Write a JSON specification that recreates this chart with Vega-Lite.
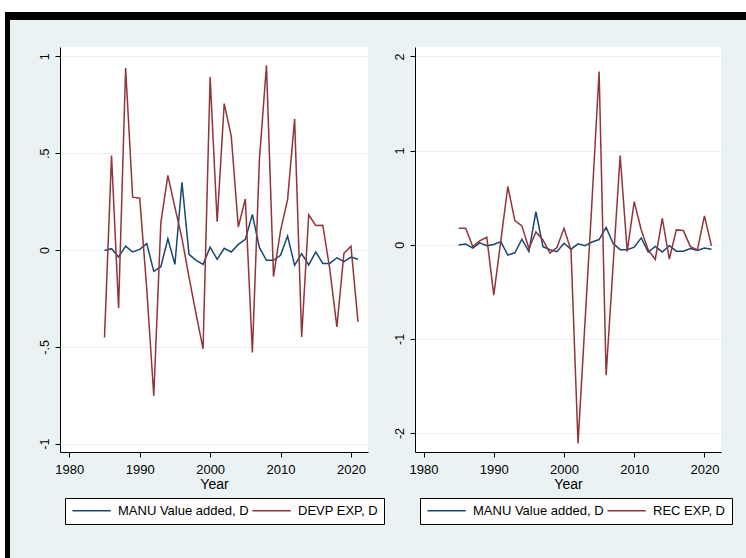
{
  "$schema": "https://vega.github.io/schema/vega-lite/v6.json",
  "background": "#EAF2F3",
  "padding": 0,
  "datasets": {
    "d": [
      {"Year": 1985, "MANU Value added, D": -0.002, "DEVP EXP, D": -0.452, "REC EXP, D": 0.174},
      {"Year": 1986, "MANU Value added, D": 0.007, "DEVP EXP, D": 0.488, "REC EXP, D": 0.174},
      {"Year": 1987, "MANU Value added, D": -0.036, "DEVP EXP, D": -0.30, "REC EXP, D": -0.02},
      {"Year": 1988, "MANU Value added, D": 0.02, "DEVP EXP, D": 0.94, "REC EXP, D": 0.04},
      {"Year": 1989, "MANU Value added, D": -0.01, "DEVP EXP, D": 0.273, "REC EXP, D": 0.079},
      {"Year": 1990, "MANU Value added, D": 0.003, "DEVP EXP, D": 0.268, "REC EXP, D": -0.535},
      {"Year": 1991, "MANU Value added, D": 0.033, "DEVP EXP, D": -0.2, "REC EXP, D": 0.04},
      {"Year": 1992, "MANU Value added, D": -0.11, "DEVP EXP, D": -0.753, "REC EXP, D": 0.618},
      {"Year": 1993, "MANU Value added, D": -0.086, "DEVP EXP, D": 0.14, "REC EXP, D": 0.256},
      {"Year": 1994, "MANU Value added, D": 0.058, "DEVP EXP, D": 0.385, "REC EXP, D": 0.20},
      {"Year": 1995, "MANU Value added, D": -0.074, "DEVP EXP, D": 0.22, "REC EXP, D": -0.04},
      {"Year": 1996, "MANU Value added, D": 0.35, "DEVP EXP, D": 0.06, "REC EXP, D": 0.136},
      {"Year": 1997, "MANU Value added, D": -0.022, "DEVP EXP, D": -0.14, "REC EXP, D": 0.05},
      {"Year": 1998, "MANU Value added, D": -0.053, "DEVP EXP, D": -0.33, "REC EXP, D": -0.09},
      {"Year": 1999, "MANU Value added, D": -0.074, "DEVP EXP, D": -0.51, "REC EXP, D": -0.03},
      {"Year": 2000, "MANU Value added, D": 0.015, "DEVP EXP, D": 0.893, "REC EXP, D": 0.174},
      {"Year": 2001, "MANU Value added, D": -0.048, "DEVP EXP, D": 0.146, "REC EXP, D": -0.06},
      {"Year": 2002, "MANU Value added, D": 0.009, "DEVP EXP, D": 0.756, "REC EXP, D": -2.11},
      {"Year": 2003, "MANU Value added, D": -0.01, "DEVP EXP, D": 0.588, "REC EXP, D": -0.81},
      {"Year": 2004, "MANU Value added, D": 0.029, "DEVP EXP, D": 0.119, "REC EXP, D": 0.48},
      {"Year": 2005, "MANU Value added, D": 0.055, "DEVP EXP, D": 0.264, "REC EXP, D": 1.84},
      {"Year": 2006, "MANU Value added, D": 0.184, "DEVP EXP, D": -0.529, "REC EXP, D": -1.386},
      {"Year": 2007, "MANU Value added, D": 0.012, "DEVP EXP, D": 0.467, "REC EXP, D": -0.21},
      {"Year": 2008, "MANU Value added, D": -0.053, "DEVP EXP, D": 0.954, "REC EXP, D": 0.947},
      {"Year": 2009, "MANU Value added, D": -0.053, "DEVP EXP, D": -0.137, "REC EXP, D": -0.074},
      {"Year": 2010, "MANU Value added, D": -0.027, "DEVP EXP, D": 0.1, "REC EXP, D": 0.458},
      {"Year": 2011, "MANU Value added, D": 0.072, "DEVP EXP, D": 0.26, "REC EXP, D": 0.157},
      {"Year": 2012, "MANU Value added, D": -0.079, "DEVP EXP, D": 0.677, "REC EXP, D": -0.056},
      {"Year": 2013, "MANU Value added, D": -0.019, "DEVP EXP, D": -0.449, "REC EXP, D": -0.155},
      {"Year": 2014, "MANU Value added, D": -0.077, "DEVP EXP, D": 0.182, "REC EXP, D": 0.28},
      {"Year": 2015, "MANU Value added, D": -0.01, "DEVP EXP, D": 0.127, "REC EXP, D": -0.152},
      {"Year": 2016, "MANU Value added, D": -0.069, "DEVP EXP, D": 0.128, "REC EXP, D": 0.157},
      {"Year": 2017, "MANU Value added, D": -0.069, "DEVP EXP, D": -0.1, "REC EXP, D": 0.15},
      {"Year": 2018, "MANU Value added, D": -0.04, "DEVP EXP, D": -0.397, "REC EXP, D": -0.02},
      {"Year": 2019, "MANU Value added, D": -0.06, "DEVP EXP, D": -0.017, "REC EXP, D": -0.056},
      {"Year": 2020, "MANU Value added, D": -0.036, "DEVP EXP, D": 0.02, "REC EXP, D": 0.306},
      {"Year": 2021, "MANU Value added, D": -0.048, "DEVP EXP, D": -0.371, "REC EXP, D": -0.013}
    ]
  },
  "spacing": 0,
  "hconcat": [
    {
      "width": 5, "height": 558,
      "data": {"values": [{}]},
      "mark": {"type": "point", "opacity": 0, "size": 0, "strokeWidth": 0},
      "encoding": {},
      "view": {"fill": "white", "stroke": null}
    },
    {
      "spacing": 0,
      "vconcat": [
        {
          "width": 741, "height": 12,
          "data": {"values": [{}]},
          "mark": {"type": "point", "opacity": 0, "size": 0, "strokeWidth": 0},
          "encoding": {},
          "view": {"fill": "white", "stroke": null}
        },
        {
          "width": 741, "height": 8,
          "data": {"values": [{}]},
          "mark": {"type": "point", "opacity": 0, "size": 0, "strokeWidth": 0},
          "encoding": {},
          "view": {"fill": "black", "stroke": null}
        },
        {
          "spacing": 0,
          "hconcat": [
            {
              "width": 5, "height": 27,
              "data": {"values": [{}]},
              "mark": {"type": "point", "opacity": 0, "size": 0, "strokeWidth": 0},
              "encoding": {},
              "view": {"fill": "black", "stroke": null}
            },
            {
              "width": 736, "height": 27,
              "data": {"values": [{}]},
              "mark": {"type": "point", "opacity": 0, "size": 0, "strokeWidth": 0},
              "encoding": {}
            }
          ]
        },
        {
          "spacing": 0,
          "hconcat": [
            {
              "width": 5, "height": 511,
              "data": {"values": [{}]},
              "mark": {"type": "point", "opacity": 0, "size": 0, "strokeWidth": 0},
              "encoding": {},
              "view": {"fill": "black", "stroke": null}
            },
            {
              "spacing": 0,
              "resolve": {"scale": {"color": "independent"}, "legend": {"color": "independent"}},
              "hconcat": [
                {
                  "width": 308, "height": 405,
                  "view": {"fill": "white", "stroke": null},
                  "data": {"name": "d"},
                  "transform": [{"fold": ["MANU Value added, D", "DEVP EXP, D"], "as": ["series", "value"]}],
                  "mark": {"type": "line", "strokeWidth": 1.5},
                  "encoding": {
                    "x": {"field": "Year", "type": "quantitative",
                      "scale": {"domain": [1978.68, 2022.42], "nice": false, "zero": false},
                      "axis": {"values": [1980, 1990, 2000, 2010, 2020], "format": "d", "title": "Year", "grid": false}},
                    "y": {"field": "value", "type": "quantitative",
                      "scale": {"domain": [-1.043, 1.0485], "nice": false, "zero": false},
                      "axis": {"values": [-1, -0.5, 0, 0.5, 1], "title": null, "grid": true, "minExtent": 50,
                        "labelExpr": "(datum.value < 0 ? '-' : '') + replace('' + abs(datum.value), '0.', '.')"}},
                    "color": {"field": "series", "type": "nominal",
                      "scale": {"domain": ["MANU Value added, D", "DEVP EXP, D"], "range": ["#1a476f", "#90353b"]},
                      "legend": {"title": null, "orient": "none", "legendX": 5, "legendY": 451, "direction": "horizontal", "columns": 2,
                        "symbolType": "M-1,0H6.66", "symbolSize": 100, "symbolStrokeWidth": 1.5,
                        "labelOffset": 34, "columnPadding": 0, "labelFontSize": 13, "labelLimit": 300,
                        "fillColor": "white", "strokeColor": "black", "padding": 6}}
                  }
                },
                {
                  "width": 306, "height": 405,
                  "view": {"fill": "white", "stroke": null},
                  "data": {"name": "d"},
                  "transform": [{"fold": ["MANU Value added, D", "REC EXP, D"], "as": ["series", "value"]}],
                  "mark": {"type": "line", "strokeWidth": 1.5},
                  "encoding": {
                    "x": {"field": "Year", "type": "quantitative",
                      "scale": {"domain": [1978.78, 2022.36], "nice": false, "zero": false},
                      "axis": {"values": [1980, 1990, 2000, 2010, 2020], "format": "d", "title": "Year", "grid": false}},
                    "y": {"field": "value", "type": "quantitative",
                      "scale": {"domain": [-2.202, 2.1], "nice": false, "zero": false},
                      "axis": {"values": [-2, -1, 0, 1, 2], "title": null, "grid": true, "minExtent": 30,
                        "labelExpr": "(datum.value < 0 ? '-' : '') + replace('' + abs(datum.value), '0.', '.')"}},
                    "color": {"field": "series", "type": "nominal",
                      "scale": {"domain": ["MANU Value added, D", "REC EXP, D"], "range": ["#1a476f", "#90353b"]},
                      "legend": {"title": null, "orient": "none", "legendX": 5, "legendY": 451, "direction": "horizontal", "columns": 2,
                        "symbolType": "M-1,0H6.66", "symbolSize": 100, "symbolStrokeWidth": 1.5,
                        "labelOffset": 34, "columnPadding": 0, "labelFontSize": 13, "labelLimit": 300,
                        "fillColor": "white", "strokeColor": "black", "padding": 6}}
                  }
                }
              ]
            }
          ]
        }
      ]
    }
  ],
  "config": {
    "font": "Liberation Sans",
    "view": {"stroke": null},
    "axis": {"domainColor": "black", "tickColor": "black", "labelColor": "black", "titleColor": "black",
      "gridColor": "#EAF2F3", "gridWidth": 1, "domainWidth": 1, "tickWidth": 1, "tickSize": 5,
      "labelFont": "Liberation Sans", "titleFont": "Liberation Sans", "titleFontWeight": "normal"},
    "axisX": {"labelFontSize": 13, "labelPadding": 6, "titleFontSize": 14, "titlePadding": 1},
    "axisY": {"labelFontSize": 12.5, "labelAngle": -90, "labelAlign": "center", "labelBaseline": "alphabetic", "labelPadding": 7},
    "legend": {"labelFont": "Liberation Sans", "labelColor": "black"}
  }
}
